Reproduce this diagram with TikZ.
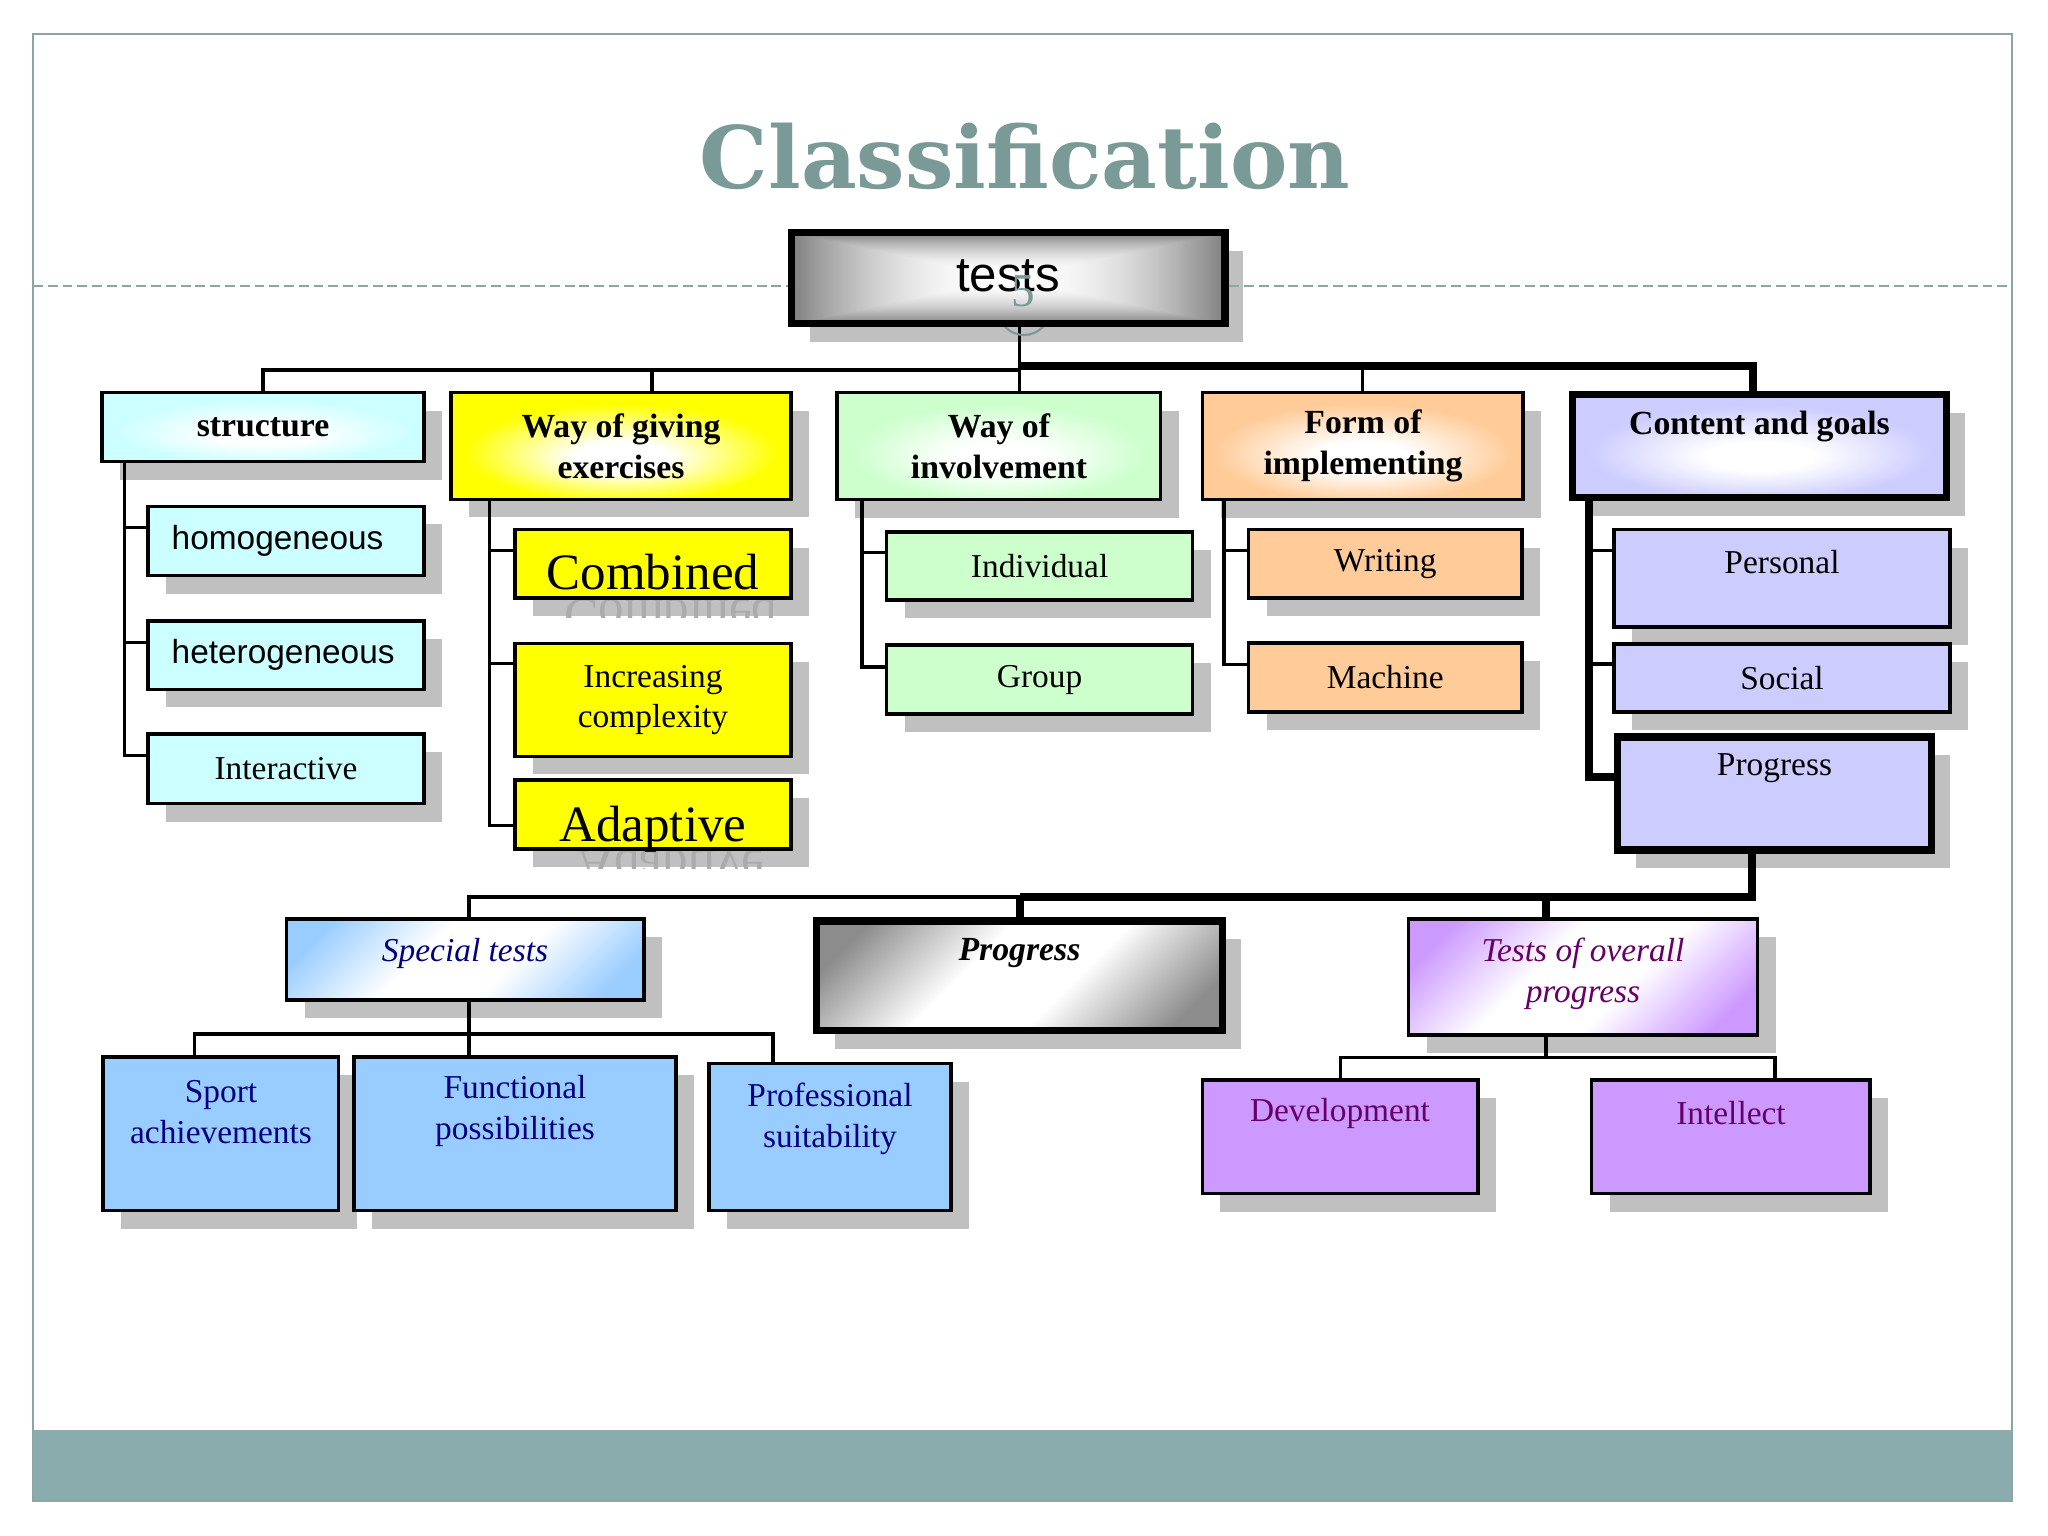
\documentclass[tikz,border=0pt]{standalone}
\usepackage{fontspec}
\setmainfont{Liberation Serif}
\setsansfont{Liberation Sans}
\newfontfamily\titlefont{DejaVu Serif}
\usetikzlibrary{fit}

\definecolor{titlecol}{HTML}{7A9A97}
\definecolor{framecol}{HTML}{8CA6A3}
\definecolor{bandcol}{HTML}{8AACAC}
\definecolor{shadowgray}{HTML}{C0C0C0}
\definecolor{cyanfill}{HTML}{CCFFFF}
\definecolor{yellowfill}{HTML}{FFFF00}
\definecolor{greenfill}{HTML}{CCFFCC}
\definecolor{orangefill}{HTML}{FFCC99}
\definecolor{lavfill}{HTML}{CCCCFF}
\definecolor{bluefill}{HTML}{99CCFF}
\definecolor{purplefill}{HTML}{CC99FF}
\definecolor{navytext}{HTML}{000080}
\definecolor{plumtext}{HTML}{660066}
\colorlet{glowcolor}{white}
\colorlet{diagcolor}{white}

\pgfdeclarelayer{slide}
\pgfdeclarelayer{shadow}
\pgfdeclarelayer{lines}
\pgfsetlayers{slide,shadow,lines,main}

\pgfdeclareradialshading[glowcolor]{glow}{\pgfpoint{0bp}{-6bp}}{%
  color(0bp)=(white); color(7bp)=(white); color(23bp)=(glowcolor); color(50bp)=(glowcolor)}
\pgfdeclareverticalshading[diagcolor]{diagfade}{100bp}{%
  color(0bp)=(diagcolor); color(22bp)=(diagcolor); color(42bp)=(white);
  color(58bp)=(white); color(78bp)=(diagcolor); color(100bp)=(diagcolor)}
\pgfdeclarefunctionalshading{rectglow}{\pgfpoint{-50bp}{-50bp}}{\pgfpoint{50bp}{50bp}}{}{%
  abs exch abs 2 copy lt {exch} if pop 25 div dup 1 gt {pop 1} if
  dup mul 0.5 mul 1 exch sub dup dup}

\tikzset{
    box/.style={draw=black, line width=0.9pt},
    heavybox/.style={draw=black, line width=2.2pt},
    glowfill/.style={/utils/exec={\colorlet{glowcolor}{#1}}, shade, shading=glow},
    diagfill/.style={/utils/exec={\colorlet{diagcolor}{#1}}, shade, shading=diagfade, shading angle=45},
    conn/.style={black, line width=0.9pt},
    thickconn/.style={black, line width=2.2pt},
    basetext/.style={inner sep=0pt, align=center, font=\fontsize{9.5}{11.6}\selectfont},
    headtext/.style={inner sep=0pt, align=center, font=\bfseries\fontsize{9.6}{11.7}\selectfont},
    sanstext/.style={inner sep=0pt, font=\sffamily\fontsize{9.5}{11.6}\selectfont},
    bigtext/.style={inner sep=0pt, font=\fontsize{14.5}{17}\selectfont},
    navytext/.style={basetext, text=navytext},
    plumtext/.style={basetext, text=plumtext},
}

% box with its shadow, corners in pixels of the slide
\NewDocumentCommand{\ShadowBox}{O{} m m m m m}{%
    \begin{pgfonlayer}{shadow}
      \fill[shadowgray] (#3+18,#4+18) rectangle (#5+18,#6+18);
    \end{pgfonlayer}
    \node[inner sep=0pt, fit={(#3,#4) (#5,#6)}, #1] (#2) {};
}

\begin{document}
\begin{tikzpicture}[x=0.01cm, y=-0.01cm]
    \useasboundingbox (0,0) rectangle (2048,1536);

    % slide
    \begin{pgfonlayer}{slide}
      \fill[white] (0,0) rectangle (2048,1536);
      \fill[bandcol] (33,1430) rectangle (2012,1501);
      \draw[framecol, line width=0.6pt] (33,34) rectangle (2012,1501);
    \end{pgfonlayer}
    \draw[framecol, line width=0.6pt, dash pattern=on 2.8pt off 1.4pt] (33,285.7) -- (2012,285.7);
    \node[anchor=base, inner sep=0pt, text=titlecol, font=\titlefont\bfseries\fontsize{24.5}{28}\selectfont] (title) at (1025,188) {Classification};
    \draw[titlecol, line width=0.6pt] (1024,309) circle (26);

    % root
    \ShadowBox[box, line width=2pt, shade, shading=rectglow]{tests}{791.5}{232.5}{1225}{323.5}
    \node[anchor=base, inner sep=0pt, font=\sffamily\fontsize{14}{16}\selectfont] (tests-t) at (1008,291.7) {tests};
    \node[anchor=base, inner sep=0pt, text=titlecol, font=\fontsize{13.4}{15}\selectfont] (slideno) at (1023,306.7) {5};

    % first level
    \ShadowBox[box, glowfill=cyanfill]{structure}{102}{392.5}{424}{461.5}
    \ShadowBox[box, glowfill=yellowfill]{giving}{451}{392.5}{791}{499.4}
    \ShadowBox[box, glowfill=greenfill]{involve}{837}{392.5}{1160.5}{499.7}
    \ShadowBox[box, glowfill=orangefill]{form}{1202.5}{392.5}{1523}{499.7}
    \ShadowBox[heavybox, glowfill=lavfill]{goals}{1572.5}{394.5}{1946.5}{497.5}
    \node[headtext] (structure-t) at (263,427) {structure};
    \node[headtext] (giving-t) at (621,446) {Way of giving\\exercises};
    \node[headtext] (involve-t) at (999,446) {Way of\\involvement};
    \node[headtext] (form-t) at (1363,446) {Form of\\implementing};
    \node[headtext] (goals-t) at (1759.5,427) {Content and goals};

    % structure
    \ShadowBox[box, fill=cyanfill]{homog}{148}{506.3}{424}{575.6}
    \ShadowBox[box, fill=cyanfill]{heterog}{148}{621}{424}{689.4}
    \ShadowBox[box, fill=cyanfill]{interact}{148}{734}{424}{803.5}
    \node[sanstext, anchor=base west] (homog-t) at (171,549) {homogeneous};
    \node[sanstext, anchor=base west] (heterog-t) at (171,663.5) {heterogeneous};
    \node[basetext] (interact-t) at (interact.center) {Interactive};

    % way of giving exercises
    \ShadowBox[box, fill=yellowfill]{combined}{515}{529.5}{791}{598}
    \ShadowBox[box, fill=yellowfill]{increasing}{515}{643.6}{791}{756.4}
    \ShadowBox[box, fill=yellowfill]{adaptive}{515}{780}{791}{849}
    \begin{pgfonlayer}{shadow}
      \begin{scope}
        \clip (combined.south west) rectangle ([xshift=0.18cm, yshift=-0.18cm]combined.south east);
        \node[bigtext, text=black!33, yscale=-1, transform shape, anchor=base] (combined-r) at ([xshift=0.18cm]combined.south) {Combined};
      \end{scope}
      \begin{scope}
        \clip (adaptive.south west) rectangle ([xshift=0.18cm, yshift=-0.18cm]adaptive.south east);
        \node[bigtext, text=black!33, yscale=-1, transform shape, anchor=base] (adaptive-r) at ([xshift=0.18cm]adaptive.south) {Adaptive};
      \end{scope}
    \end{pgfonlayer}
    \node[bigtext, anchor=base] (combined-t) at (653,589) {Combined};
    \node[basetext] (increasing-t) at (increasing.center) {Increasing\\complexity};
    \node[bigtext, anchor=base] (adaptive-t) at (653,841) {Adaptive};

    % way of involvement
    \ShadowBox[box, fill=greenfill]{individual}{886.6}{532}{1192.6}{600}
    \ShadowBox[box, fill=greenfill]{group}{886.6}{645}{1192.6}{714}
    \node[basetext] (individual-t) at (individual.center) {Individual};
    \node[basetext] (group-t) at (group.center) {Group};

    % form of implementing
    \ShadowBox[box, fill=orangefill]{writing}{1248.5}{529.5}{1522}{598}
    \ShadowBox[box, fill=orangefill]{machine}{1248.5}{643}{1522}{712}
    \node[basetext] (writing-t) at (writing.center) {Writing};
    \node[basetext] (machine-t) at (machine.center) {Machine};

    % content and goals
    \ShadowBox[box, fill=lavfill]{personal}{1614}{529.5}{1950}{627}
    \ShadowBox[box, fill=lavfill]{social}{1614}{644}{1950}{712}
    \ShadowBox[heavybox, fill=lavfill]{progup}{1617.5}{737}{1931.5}{850}
    \node[basetext] (personal-t) at (1782,562) {Personal};
    \node[basetext] (social-t) at (social.center) {Social};
    \node[basetext] (progup-t) at (1774.5,768) {Progress};

    % progress
    \ShadowBox[box, diagfill=bluefill]{special}{286.6}{919}{644}{1000}
    \ShadowBox[heavybox, diagfill=black!45]{progdown}{816.5}{921}{1222.5}{1030.5}
    \ShadowBox[box, diagfill=purplefill]{overall}{1408.6}{919}{1757.6}{1035}
    \node[navytext, font=\itshape\fontsize{9.5}{11.6}\selectfont] (special-t) at (465,953) {Special tests};
    \node[basetext, font=\bfseries\itshape\fontsize{9.6}{11.7}\selectfont] (progdown-t) at (1019.5,953) {Progress};
    \node[plumtext, font=\itshape\fontsize{9.5}{11.6}\selectfont] (overall-t) at (1583,974) {Tests of overall\\progress};

    \ShadowBox[box, fill=bluefill]{sport}{103}{1057}{338.6}{1210.7}
    \ShadowBox[box, fill=bluefill]{func}{354}{1057}{676}{1210.7}
    \ShadowBox[box, fill=bluefill]{prof}{709}{1063.7}{951}{1210.7}
    \ShadowBox[box, fill=purplefill]{devel}{1202.4}{1080}{1478}{1193.7}
    \ShadowBox[box, fill=purplefill]{intel}{1591.7}{1080}{1870}{1193.7}
    \node[navytext] (sport-t) at (221,1111.7) {Sport\\achievements};
    \node[navytext] (func-t) at (515,1111) {Functional\\possibilities};
    \node[navytext] (prof-t) at (830,1119) {Professional\\suitability};
    \node[plumtext] (devel-t) at (1340,1113) {Development};
    \node[plumtext] (intel-t) at (1731,1113) {Intellect};

    % connectors
    \begin{pgfonlayer}{lines}
      \coordinate (hub) at (1019.6,370);
      \coordinate (hubr) at (1019.6,366);
      \coordinate (gdrop) at (652,370);
      \coordinate (cdrop) at (1753,366);
      \draw[conn] (hub |- tests.south) -- (hub |- involve.north);
      \draw[conn] (structure.north) |- (hub);
      \draw[conn] (gdrop |- giving.north) -- (gdrop);
      \draw[conn] (form.north) -- (form.north |- hubr);
      \draw[thickconn] (hubr) -| (cdrop |- goals.north);

      \foreach \sub in {homog, heterog, interact}
        \draw[conn] ([yshift=-0.23cm]\sub.north west) -| ([xshift=0.24cm]structure.south west);
      \foreach \sub/\dy in {combined/0.225, increasing/0.215, adaptive/0.467}
        \draw[conn] ([yshift=-\dy cm]\sub.north west) -| ([xshift=0.40cm]giving.south west);
      \foreach \sub/\dy in {individual/0.22, group/0.235}
        \draw[conn] ([yshift=-\dy cm]\sub.north west) -| ([xshift=0.266cm]involve.south west);
      \foreach \sub/\dy in {writing/0.225, machine/0.23}
        \draw[conn] ([yshift=-\dy cm]\sub.north west) -| ([xshift=0.23cm]form.south west);
      \draw[thickconn] ([xshift=0.205cm]goals.south west) |- ([yshift=-0.44cm]progup.north west);
      \foreach \sub/\dy in {personal/0.225, social/0.215}
        \draw[conn] ([yshift=-\dy cm]\sub.north west) -| ([xshift=0.205cm]goals.south west);

      \coordinate (hub2) at (1020,897);
      \coordinate (sdrop) at (469,897);
      \coordinate (odrop) at (1546,897);
      \draw[thickconn] ([xshift=-0.225cm]progup.south) |- (hub2);
      \draw[thickconn] (hub2) -- (hub2 |- progdown.north);
      \draw[thickconn] (odrop) -- (odrop |- overall.north);
      \draw[conn] (hub2) -- (sdrop) -- (sdrop |- special.north);

      \coordinate (hub3) at (469,1034);
      \coordinate (b3l) at (194.8,1034);
      \coordinate (b3r) at (773,1034);
      \draw[conn] (hub3 |- special.south) -- (hub3 |- func.north);
      \draw[conn] (b3l |- sport.north) -- (b3l) -- (b3r) -- (b3r |- prof.north);

      \coordinate (hub4) at (1546,1057.7);
      \coordinate (b4r) at (1775,1057.7);
      \draw[conn] (hub4 |- overall.south) -- (hub4);
      \draw[conn] (devel.north) |- (b4r) -- (b4r |- intel.north);
    \end{pgfonlayer}

\end{tikzpicture}
\end{document}
